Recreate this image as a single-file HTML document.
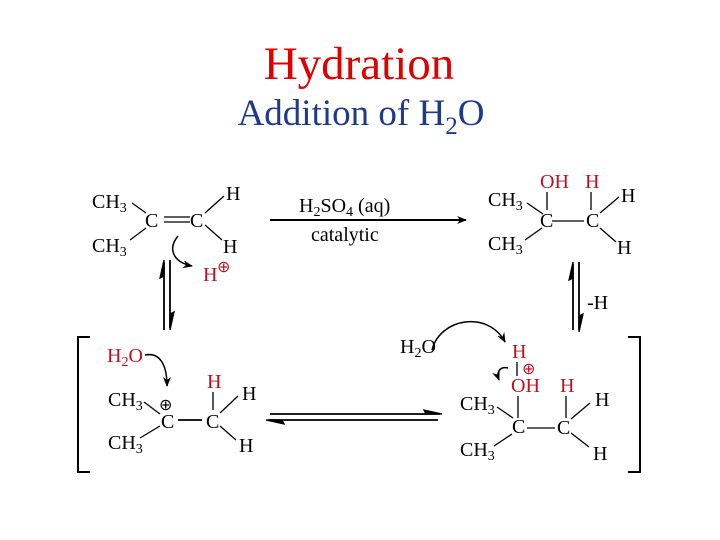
<!DOCTYPE html>
<html><head><style>
body{margin:0;background:#fff;}
svg{display:block;font-family:"Liberation Serif",serif;}
</style></head><body>
<svg width="720" height="540" viewBox="0 0 720 540" xmlns="http://www.w3.org/2000/svg">
<defs>
<marker id="ah" markerWidth="10" markerHeight="8" refX="9" refY="4" orient="auto" markerUnits="userSpaceOnUse"><path d="M0,0 L10,4 L0,8 L3,4z" fill="#000"/></marker>
</defs>
<text x="359" y="79" text-anchor="middle" font-size="47" fill="#e00000">Hydration</text>
<text x="361" y="125" text-anchor="middle" font-size="37" fill="#1f3a8c">Addition of H<tspan font-size="25" dy="9">2</tspan><tspan dy="-9">O</tspan></text>

<g font-size="20" fill="#000">
<!-- top-left -->
<text x="92" y="208">CH<tspan font-size="14" dy="4">3</tspan></text>
<text x="92" y="252">CH<tspan font-size="14" dy="4">3</tspan></text>
<text x="145" y="227">C</text>
<text x="190" y="227">C</text>
<text x="226" y="200">H</text>
<text x="223" y="253">H</text>
<text x="203" y="281" fill="#c01020">H</text>
<text x="217" y="272" font-size="16" fill="#c01020">⊕</text>
</g>
<g stroke="#000" stroke-width="1.3" fill="none">
<line x1="132" y1="203" x2="146" y2="213"/><line x1="130" y1="240" x2="146" y2="228"/>
<line x1="164" y1="217" x2="190" y2="217"/><line x1="164" y1="222" x2="190" y2="222"/>
<line x1="205" y1="213" x2="224" y2="196"/><line x1="205" y1="225" x2="222" y2="240"/>
<path d="M178,236 C168,248 172,262 192,266" marker-end="url(#ah)" stroke-width="1.5"/>
<line x1="270" y1="220" x2="466" y2="220" marker-end="url(#ah)" stroke-width="2"/>
</g>
<g font-size="20">
<text x="299" y="212">H<tspan font-size="14" dy="4">2</tspan><tspan dy="-4">SO</tspan><tspan font-size="14" dy="4">4</tspan><tspan dy="-4"> (aq)</tspan></text>
<text x="311" y="241">catalytic</text>
<!-- top-right -->
<text x="488" y="206">CH<tspan font-size="14" dy="4">3</tspan></text>
<text x="488" y="250">CH<tspan font-size="14" dy="4">3</tspan></text>
<text x="540" y="188" fill="#c01020">OH</text>
<text x="585" y="188" fill="#c01020">H</text>
<text x="540" y="227">C</text>
<text x="586" y="227">C</text>
<text x="621" y="202">H</text>
<text x="617" y="254">H</text>
<text x="587" y="309">-H</text>
</g>
<g stroke="#000" stroke-width="1.3" fill="none">
<line x1="527" y1="203" x2="543" y2="214"/><line x1="525" y1="240" x2="542" y2="228"/>
<line x1="552" y1="221" x2="584" y2="221"/>
<line x1="600" y1="213" x2="619" y2="197"/><line x1="600" y1="228" x2="616" y2="242"/>
<line x1="547" y1="192" x2="547" y2="210"/><line x1="591" y1="192" x2="591" y2="210"/>
<line x1="164" y1="262" x2="164" y2="330" stroke-width="1.8"/><path d="M164,260 L160,278 L164,276z" fill="#000"/>
<line x1="170" y1="260" x2="170" y2="328" stroke-width="1.8"/><path d="M170,330 L174,312 L170,314z" fill="#000"/>
<line x1="573" y1="264" x2="573" y2="330" stroke-width="1.8"/><path d="M573,262 L569,280 L573,278z" fill="#000"/>
<line x1="579" y1="262" x2="579" y2="330" stroke-width="1.8"/><path d="M579,332 L583,314 L579,316z" fill="#000"/>
<path d="M90,337 L78,337 L78,472 L90,472" stroke-width="2"/>
<path d="M628,337 L640,337 L640,472 L628,472" stroke-width="2"/>
<line x1="270" y1="414" x2="440" y2="414" stroke-width="1.8"/><path d="M442,414 L424,410 L426,414z" fill="#000"/>
<line x1="268" y1="420" x2="438" y2="420" stroke-width="1.8"/><path d="M266,420 L284,424 L282,420z" fill="#000"/>
</g>
<g font-size="20">
<text x="107" y="362" fill="#c01020">H<tspan font-size="14" dy="4">2</tspan><tspan dy="-4">O</tspan></text>
<text x="108" y="406">CH<tspan font-size="14" dy="4">3</tspan></text>
<text x="108" y="449">CH<tspan font-size="14" dy="4">3</tspan></text>
<text x="159" y="410" font-size="16">⊕</text>
<text x="161" y="428">C</text>
<text x="206" y="428">C</text>
<text x="207" y="388" fill="#c01020">H</text>
<text x="242" y="400">H</text>
<text x="239" y="452">H</text>

<text x="400" y="353">H<tspan font-size="14" dy="4">2</tspan><tspan dy="-4">O</tspan></text>
<text x="512" y="358" fill="#c01020">H</text>
<text x="522" y="374" font-size="16" fill="#c01020">⊕</text>
<text x="511" y="392" fill="#c01020">OH</text>
<text x="560" y="392" fill="#c01020">H</text>
<text x="460" y="410">CH<tspan font-size="14" dy="4">3</tspan></text>
<text x="460" y="456">CH<tspan font-size="14" dy="4">3</tspan></text>
<text x="512" y="433">C</text>
<text x="557" y="434">C</text>
<text x="595" y="406">H</text>
<text x="593" y="460">H</text>
</g>
<g stroke="#000" stroke-width="1.3" fill="none">
<path d="M145,355 C160,352 167,365 167,386" marker-end="url(#ah)" stroke-width="1.5"/>
<line x1="144" y1="402" x2="160" y2="414"/><line x1="140" y1="438" x2="160" y2="426"/>
<line x1="178" y1="420" x2="202" y2="420" stroke-width="1.8"/>
<line x1="213" y1="392" x2="213" y2="410"/>
<line x1="220" y1="413" x2="238" y2="396"/><line x1="220" y1="426" x2="236" y2="440"/>
<path d="M432,350 C440,318 488,310 505,342" marker-end="url(#ah)" stroke-width="1.5"/>
<path d="M508,368 C500,366 496,372 499,380" marker-end="url(#ah)" stroke-width="1.5"/>
<line x1="517" y1="362" x2="517" y2="376"/>
<line x1="518" y1="396" x2="518" y2="418"/>
<line x1="566" y1="396" x2="566" y2="418"/>
<line x1="497" y1="407" x2="513" y2="418"/><line x1="494" y1="446" x2="512" y2="434"/>
<line x1="527" y1="428" x2="555" y2="428"/>
<line x1="571" y1="419" x2="590" y2="403"/><line x1="571" y1="433" x2="589" y2="447"/>
</g>
</svg>
</body></html>
